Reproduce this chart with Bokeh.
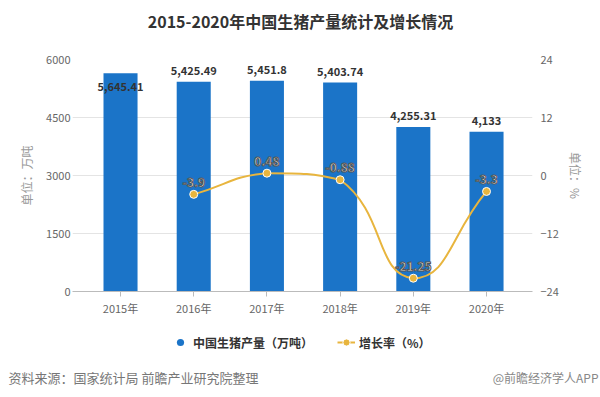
from bokeh.plotting import figure
from bokeh.layouts import column
from bokeh.models import (ColumnDataSource, Range1d, LinearAxis, FixedTicker,
                          Legend, LegendItem, Label)
from bokeh.core.properties import value
from bokeh.embed import file_html
from bokeh.resources import INLINE
import math

# ---- data ----
years = ["2015年", "2016年", "2017年", "2018年", "2019年", "2020年"]
output = [5645.41, 5425.49, 5451.8, 5403.74, 4255.31, 4133]
output_labels = ["5,645.41", "5,425.49", "5,451.8", "5,403.74", "4,255.31", "4,133"]
growth_years = ["2016年", "2017年", "2018年", "2019年", "2020年"]
growth = [-3.9, 0.48, -0.88, -21.25, -3.3]
growth_labels = ["-3.9", "0.48", "-0.88", "-21.25", "-3.3"]
left_ticks = [0, 1500, 3000, 4500, 6000]
right_ticks = [-24, -12, 0, 12, 24]
title_text = "2015-2020年中国生猪产量统计及增长情况"
source_text = "资料来源：国家统计局 前瞻产业研究院整理"
credit_text = "@前瞻经济学人APP"

# ---- style ----
FONT = "Noto Sans CJK SC"
BLUE = "#1b74c8"
GOLD = "#e8b53e"
bar_label_offsets = [13, -11, -11, -11, -11, -11]
SMOOTH = 0.5
PX_X, PX_Y = 73.2, 234 / 48  # pixels per data unit (for smoothing weights)


def strip(h):
    f = figure(width=600, height=h, output_backend="svg", toolbar_location=None,
               x_axis_location=None, y_axis_location=None, min_border=0,
               x_range=Range1d(0, 1), y_range=Range1d(0, 1))
    f.outline_line_color = None
    f.grid.visible = False
    f.frame_align = False
    return f


# ---- title strip ----
t = strip(40)
t.add_layout(Label(x=300, y=20, x_units="screen", y_units="screen",
                   text=title_text, text_font=FONT, text_font_size="16px",
                   text_font_style="bold", text_color="#333333",
                   text_align="center", text_baseline="middle"))

x_idx = list(range(len(years)))
gx = [years.index(y) for y in growth_years]

p = figure(width=600, height=278, output_backend="svg", toolbar_location=None,
           x_range=Range1d(-0.656, 5.628), y_range=Range1d(0, 6000),
           min_border_left=72, min_border_right=68, min_border_top=19,
           min_border_bottom=25)
p.frame_align = False
p.extra_y_ranges = {"pct": Range1d(-24, 24)}
p.outline_line_color = None

# bars
bar_src = ColumnDataSource(dict(x=x_idx, top=output, label=output_labels,
                                off=bar_label_offsets))
p.vbar(x="x", top="top", width=0.465, source=bar_src, fill_color=BLUE,
       line_color=None)
p.text(x="x", y="top", text="label", y_offset="off", source=bar_src,
       text_align="center", text_baseline="middle", text_font_size="11px",
       text_font_style="bold", text_color="#333333", text_font=value(FONT))

# smooth line (ECharts-like smoothBezier with constraint)
n = len(gx)
gmin, gmax = min(growth), max(growth)
cps = []
for i in range(n):
    pi = (gx[i], growth[i])
    pr = (gx[i - 1], growth[i - 1]) if i > 0 else pi
    nx = (gx[i + 1], growth[i + 1]) if i < n - 1 else pi
    vx, vy = (nx[0] - pr[0]) * SMOOTH, (nx[1] - pr[1]) * SMOOTH
    d0 = math.hypot((pi[0] - pr[0]) * PX_X, (pi[1] - pr[1]) * PX_Y)
    d1 = math.hypot((nx[0] - pi[0]) * PX_X, (nx[1] - pi[1]) * PX_Y)
    s = d0 + d1
    if s:
        d0, d1 = d0 / s, d1 / s
    c0 = (pi[0] - vx * d0, min(max(pi[1] - vy * d0, gmin), gmax))
    c1 = (pi[0] + vx * d1, min(max(pi[1] + vy * d1, gmin), gmax))
    cps.append((c0, c1))
seg = dict(x0=[], y0=[], x1=[], y1=[], cx0=[], cy0=[], cx1=[], cy1=[])
for i in range(n - 1):
    seg["x0"].append(gx[i]); seg["y0"].append(growth[i])
    seg["x1"].append(gx[i + 1]); seg["y1"].append(growth[i + 1])
    seg["cx0"].append(cps[i][1][0]); seg["cy0"].append(cps[i][1][1])
    seg["cx1"].append(cps[i + 1][0][0]); seg["cy1"].append(cps[i + 1][0][1])
p.bezier(x0="x0", y0="y0", x1="x1", y1="y1", cx0="cx0", cy0="cy0",
         cx1="cx1", cy1="cy1", source=ColumnDataSource(seg),
         line_color=GOLD, line_width=2, y_range_name="pct")

g_src = ColumnDataSource(dict(x=gx, y=growth, label=growth_labels))
p.scatter(x="x", y="y", source=g_src, size=8, fill_color=GOLD,
          line_color="white", line_width=1, y_range_name="pct")
p.text(x="x", y="y", text="label", source=g_src, y_range_name="pct",
       y_offset=-12, text_align="center", text_baseline="middle",
       text_font_size="12px", text_font_style="bold", text_color="white",
       text_font=value(FONT), text_outline_color="#555555")

# axes
p.xgrid.grid_line_color = None
p.ygrid.grid_line_color = "#e4e4e4"
p.ygrid.ticker = FixedTicker(ticks=left_ticks)

xa = p.xaxis[0]
xa.ticker = FixedTicker(ticks=x_idx)
xa.major_label_overrides = {i: y for i, y in enumerate(years)}
xa.axis_line_color = "#bbbbbb"
xa.major_tick_line_color = "#bbbbbb"
xa.major_tick_out = 5
xa.major_tick_in = 0
xa.minor_tick_line_color = None
xa.major_label_standoff = 3
xa.major_label_text_font = FONT
xa.major_label_text_font_size = "11px"
xa.major_label_text_color = "#666666"

ya = p.yaxis[0]
ya.ticker = FixedTicker(ticks=left_ticks)
ya.axis_line_color = None
ya.major_tick_line_color = None
ya.minor_tick_line_color = None
ya.major_tick_out = 0
ya.major_label_standoff = 2
ya.major_label_text_font = FONT
ya.major_label_text_font_size = "11px"
ya.major_label_text_color = "#666666"
ya.axis_label = "单位：万吨"
ya.axis_label_text_font = FONT
ya.axis_label_text_font_size = "12px"
ya.axis_label_text_font_style = "normal"
ya.axis_label_text_color = "#999999"
ya.axis_label_standoff = 8

ra = LinearAxis(y_range_name="pct", ticker=FixedTicker(ticks=right_ticks),
                axis_label="单位：%")
ra.axis_line_color = None
ra.major_tick_line_color = None
ra.minor_tick_line_color = None
ra.major_tick_out = 0
ra.major_label_standoff = 8
ra.major_label_text_font = FONT
ra.major_label_text_font_size = "11px"
ra.major_label_text_color = "#666666"
ra.axis_label_text_font = FONT
ra.axis_label_text_font_size = "12px"
ra.axis_label_text_font_style = "normal"
ra.axis_label_text_color = "#999999"
ra.axis_label_standoff = 5
p.add_layout(ra, "right")

# ---- legend + footer strip ----
f = strip(79)
# legend proxies sit outside the strip's visible range
leg_bar = f.scatter(x=[-5], y=[-5], size=12, fill_color=BLUE, line_color=None)
leg_line = f.line(x=[-5, -4], y=[-5, -5], line_color=GOLD, line_width=2)
leg_pt = f.scatter(x=[-5], y=[-5], size=7, fill_color=GOLD, line_color="white",
                   line_width=1)
legend = Legend(items=[LegendItem(label="中国生猪产量（万吨）", renderers=[leg_bar]),
                       LegendItem(label="增长率（%）", renderers=[leg_line, leg_pt])],
                orientation="horizontal", location=(171, 45),
                label_text_font=FONT, label_text_font_size="12px",
                label_text_font_style="bold", label_text_color="#333333",
                border_line_color=None, background_fill_alpha=0,
                spacing=24, glyph_width=18, label_standoff=4, margin=0,
                padding=0)
f.add_layout(legend, "center")
f.add_layout(Label(x=8, y=20, x_units="screen", y_units="screen",
                   text=source_text,
                   text_font=FONT, text_font_size="13px", text_color="#777777",
                   text_baseline="middle", text_align="left"))
f.add_layout(Label(x=598, y=20, x_units="screen", y_units="screen",
                   text=credit_text,
                   text_font=FONT, text_font_size="12px", text_color="#888888",
                   text_baseline="middle", text_align="right"))

open("out.html", "w").write(file_html(column(t, p, f, spacing=0), INLINE))
